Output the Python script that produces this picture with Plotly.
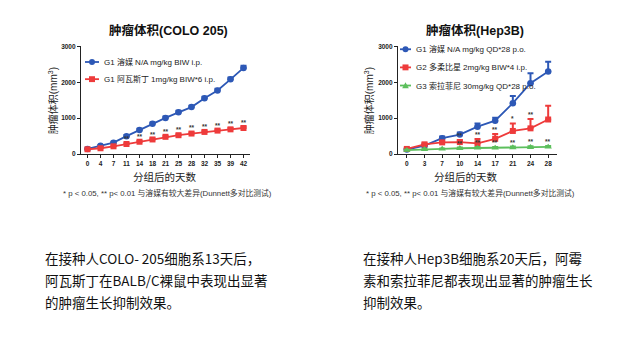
import plotly.graph_objects as go

W, H = 637, 356
def px(x): return x / W
def py(y): return 1 - y / H

# ---------------- data ----------------
days_l = ["0", "4", "7", "11", "14", "18", "21", "25", "28", "32", "35", "39", "42"]
veh_l = [145, 236, 320, 500, 673, 845, 1009, 1164, 1309, 1555, 1773, 2082, 2400]
veh_l_err = [15, 20, 25, 30, 35, 35, 40, 40, 40, 45, 45, 50, 60]
ava_l = [136, 164, 218, 282, 345, 409, 482, 527, 573, 618, 655, 690, 727]
ava_l_err = [10, 12, 15, 20, 20, 25, 25, 30, 30, 30, 30, 35, 40]
ava_l_sig = ["", "", "", "**", "**", "**", "**", "**", "**", "**", "**", "**", "**"]

days_r = ["0", "3", "7", "10", "14", "17", "21", "24", "28"]
veh_r = [127, 236, 445, 545, 764, 930, 1418, 1973, 2300]
veh_r_err = [20, 30, 45, 60, 90, 80, 200, 280, 270]
dox_r = [145, 273, 327, 336, 300, 427, 645, 718, 964]
dox_r_err = [20, 30, 40, 50, 120, 135, 210, 260, 380]
dox_r_sig = ["", "", "", "**", "**", "**", "*", "**", ""]
sor_r = [110, 136, 145, 164, 173, 173, 182, 191, 200]
sor_r_err = [10, 15, 15, 20, 25, 25, 30, 30, 30]
sor_r_sig = ["", "", "", "**", "**", "**", "**", "**", "**"]

names_l = ["G1 溶媒 N/A mg/kg BIW i.p.", "G1 阿瓦斯丁 1mg/kg BIW*6 i.p."]
names_r = ["G1 溶媒 N/A mg/kg QD*28 p.o.", "G2 多柔比星 2mg/kg BIW*4 i.p.", "G3 索拉菲尼 30mg/kg QD*28 p.o."]
yticks = [0, 1000, 2000, 3000]

titles = ["肿瘤体积(COLO 205)", "肿瘤体积(Hep3B)"]
ytitle = "肿瘤体积(mm<sup>3</sup>)"
xtitle = "分组后的天数"
footnote = "* p < 0.05, ** p< 0.01 与溶媒有较大差异(Dunnett多对比测试)"
para_l = ["在接种人COLO- 205细胞系13天后，", "阿瓦斯丁在BALB/C裸鼠中表现出显著", "的肿瘤生长抑制效果。"]
para_r = ["在接种人Hep3B细胞系20天后，阿霉", "素和索拉菲尼都表现出显著的肿瘤生长", "抑制效果。"]

BLUE = "#2D58B6"
RED = "#EE3B3B"
GREEN = "#5CBF5C"
FONT = "Liberation Sans, Noto Sans CJK SC, sans-serif"
CJK = "Noto Sans CJK SC, sans-serif"

fig = go.Figure()

def add_series(x, y, err, color, symbol, size, xa, ya):
    fig.add_trace(go.Scatter(
        x=x, y=y, mode="lines+markers", xaxis=xa, yaxis=ya,
        line=dict(color=color, width=1.8),
        marker=dict(color=color, symbol=symbol, size=size),
        error_y=dict(type="data", array=err, arrayminus=[0] * len(err), symmetric=False,
                     color=color, thickness=2, width=3),
        showlegend=False, cliponaxis=False))

add_series(days_l, veh_l, veh_l_err, BLUE, "circle", 6.5, "x", "y")
add_series(days_l, ava_l, ava_l_err, RED, "square", 6, "x", "y")
add_series(days_r, veh_r, veh_r_err, BLUE, "circle", 6.5, "x2", "y2")
add_series(days_r, dox_r, dox_r_err, RED, "square", 6, "x2", "y2")
add_series(days_r, sor_r, sor_r_err, GREEN, "triangle-up", 6.5, "x2", "y2")

annotations = []
def add_stars(x, y, err, sig, xr, yr):
    # x positions on a category axis are given by category index
    for i, (yi, ei, s) in enumerate(zip(y, err, sig)):
        if s:
            annotations.append(dict(x=i, y=yi + ei, xref=xr, yref=yr, text=s, showarrow=False,
                                    yanchor="bottom", yshift=-1,
                                    font=dict(size=6.5, color="#333", family=FONT, weight="bold")))

add_stars(days_l, ava_l, ava_l_err, ava_l_sig, "x", "y")
add_stars(days_r, dox_r, dox_r_err, dox_r_sig, "x2", "y2")
add_stars(days_r, sor_r, sor_r_err, sor_r_sig, "x2", "y2")

ax_common = dict(showline=True, linecolor="#222", linewidth=1.2, ticks="outside", ticklen=3,
                 tickwidth=1.1, tickcolor="#222", showgrid=False, zeroline=False,
                 tickfont=dict(size=6.5, family=FONT, color="#222", weight="bold"))

fig.update_layout(
    width=W, height=H, margin=dict(l=0, r=0, t=0, b=0),
    paper_bgcolor="white", plot_bgcolor="white", showlegend=False,
    xaxis=dict(domain=[px(73), px(242)], type="category", range=[-0.5, len(days_l) - 0.5],
               anchor="y", **ax_common),
    yaxis=dict(domain=[py(145), py(35)], range=[0, 3000], tickvals=yticks, anchor="x", **ax_common),
    xaxis2=dict(domain=[px(390), px(549)], type="category", range=[-0.5, len(days_r) - 0.5],
                anchor="y2", **ax_common),
    yaxis2=dict(domain=[py(145), py(35)], range=[0, 3000], tickvals=yticks, anchor="x2", **ax_common),
)

def txt(x, y, s, size, color="#222", bold=False, angle=0, xanchor="center", family=FONT):
    annotations.append(dict(x=px(x), y=py(y), xref="paper", yref="paper", text=s, showarrow=False,
                            xanchor=xanchor, yanchor="middle", textangle=angle,
                            font=dict(size=size, color=color, family=family,
                                      weight="bold" if bold else "normal")))

# titles
txt(160, 19, titles[0], 12.5, "#111", bold=True)
txt(467, 19, titles[1], 12.5, "#111", bold=True)
# axis titles
txt(45, 91, ytitle, 10, "#222", angle=-90)
txt(361, 91, ytitle, 10, "#222", angle=-90)
txt(157, 168, xtitle, 10.5, "#222")
txt(458, 168, xtitle, 10.5, "#222")
# footnotes
txt(159, 185, footnote, 7.8, "#333")
txt(462, 185, footnote, 7.8, "#333")
# paragraphs
for i, (a, b) in enumerate(zip(para_l, para_r)):
    txt(35, 251 + i * 22.5, a, 13.5, "#111", xanchor="left", family=CJK)
    txt(353, 251 + i * 22.5, b, 13.5, "#111", xanchor="left", family=CJK)

# legend keys (decorative)
shapes = []
def legend_key(x0, x1, y, color, kind, label):
    shapes.append(dict(type="line", xref="paper", yref="paper", x0=px(x0), x1=px(x1), y0=py(y), y1=py(y),
                       line=dict(color=color, width=1.8)))
    cx = (x0 + x1) / 2
    r = 3
    if kind == "circle":
        shapes.append(dict(type="circle", xref="paper", yref="paper", x0=px(cx - r), x1=px(cx + r),
                           y0=py(y + r), y1=py(y - r), fillcolor=color, line=dict(width=0)))
    elif kind == "square":
        shapes.append(dict(type="rect", xref="paper", yref="paper", x0=px(cx - r), x1=px(cx + r),
                           y0=py(y + r), y1=py(y - r), fillcolor=color, line=dict(width=0)))
    else:
        path = "M {} {} L {} {} L {} {} Z".format(px(cx - 3.3), py(y + 2.7), px(cx + 3.3), py(y + 2.7),
                                                 px(cx), py(y - 3.3))
        shapes.append(dict(type="path", xref="paper", yref="paper", path=path, fillcolor=color,
                           line=dict(width=0)))
    txt(x1 + 3, y, label, 8, "#222", xanchor="left")

legend_key(77, 91, 51, BLUE, "circle", names_l[0])
legend_key(77, 91, 68.5, RED, "square", names_l[1])
legend_key(392, 403, 38, BLUE, "circle", names_r[0])
legend_key(392, 403, 56.5, RED, "square", names_r[1])
legend_key(392, 403, 75, GREEN, "triangle", names_r[2])

fig.update_layout(annotations=annotations, shapes=shapes)
fig.write_html("out.html")
